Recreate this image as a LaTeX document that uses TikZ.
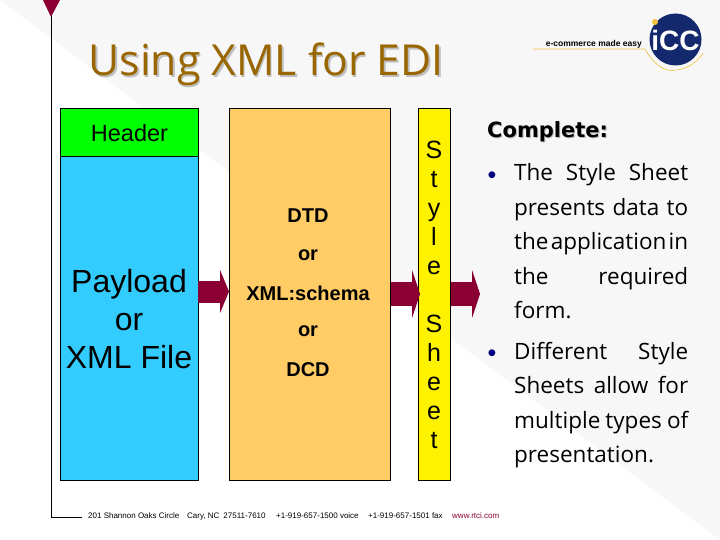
\documentclass[tikz,border=0pt]{standalone}
\usepackage{fontspec}
\setmainfont{Liberation Sans}
\newfontfamily\tahomafont{Open Sans}
\newfontfamily\verdanafont{DejaVu Sans}
\usetikzlibrary{arrows.meta}
\definecolor{wine}{HTML}{8A0033}
\definecolor{titlebrown}{HTML}{996600}
\definecolor{iccblue}{HTML}{14286E}
\definecolor{iccgold}{HTML}{F2C23C}
\definecolor{payloadblue}{HTML}{33CCFF}
\definecolor{schemaorange}{HTML}{FFCC66}
\definecolor{bulletblue}{HTML}{000080}
\newcommand{\jline}[1]{\makebox[174pt][s]{\spaceskip=.08em plus 1em\relax #1}}
\tikzset{
  block/.style={draw=black,thick,minimum width=#1,anchor=north west,inner sep=0pt},
  flowarrow/.style={line width=24pt,wine,-{Triangle[length=8pt,width=48pt]}},
  bodytext/.style={font=\tahomafont\fontsize{22.5}{34.5}\selectfont,anchor=north west,inner sep=0pt,align=left},
  bulletmark/.style={font=\fontsize{25}{30}\selectfont,text=bulletblue,inner sep=0pt},
  boxlabel/.style={font=\fontsize{20}{24}\selectfont\bfseries,inner sep=0pt},
  footlabel/.style={font=\fontsize{8}{10}\selectfont,inner sep=0pt,anchor=base west},
  titletext/.style={font=\tahomafont\fontsize{42.7}{50}\selectfont,anchor=west,inner sep=0pt},
  completetext/.style={font=\verdanafont\fontsize{21}{25}\selectfont\bfseries,anchor=west,inner sep=0pt},
}
\begin{document}
\begin{tikzpicture}[x=1pt,y=-1pt]
  \useasboundingbox (0,0) rectangle (720,540);
  \fill[white] (0,0) rectangle (720,540);
  \fill[black!3] (0,0) -- (720,0) -- (720,540) --cycle;
  % frame line
  \coordinate (frametop) at (51,0);
  \coordinate (framebot) at (51,517);
  \coordinate (frameend) at (82,517);
  \draw[thick] (frametop) -- (framebot) -- (frameend);
  \fill[wine] (43,0) -- (60,0) -- (51,17) --cycle;
  % title
  \node[titletext,text=black!25] (titleshadow) at (90,66) {Using XML for EDI};
  \node[titletext,text=titlebrown] (title) at (88.5,64.5) {Using XML for EDI};
  % logo
  \node[font=\bfseries\fontsize{8.5}{10}\selectfont,inner sep=0pt,anchor=east] (slogan) at (642,44) {e-commerce made easy};
  \coordinate (logostart) at (533,49);
  \coordinate (logoend) at (703,53);
  \draw[iccgold,semithick] (logostart) -- (645,49) .. controls (652,62) and (662,70.5) .. (672,70.5) .. controls (686,70) and (697,63) .. (logoend);
  \fill[iccblue] (675.5,39.5) circle (26pt);
  \fill[iccgold] (655,22) circle (3pt);
  \node[text=white,font=\bfseries\fontsize{28}{28}\selectfont,inner sep=0pt] (logo) at (675.5,40.5) {iCC};
  % boxes
  \node[block=138pt,minimum height=48pt,fill=green] (header) at (60,108) {};
  \node[block=138pt,minimum height=324pt,fill=payloadblue] (payload) at (60,156) {};
  \node[block=161pt,minimum height=372pt,fill=schemaorange] (schema) at (229,108) {};
  \node[block=32pt,minimum height=372pt,fill=yellow] (sheet) at (418,108) {};
  \node[font=\fontsize{23.5}{28}\selectfont,inner sep=0pt] (headerlabel) at (129.5,133) {Header};
  \node[font=\fontsize{32}{38}\selectfont,align=center,inner sep=0pt] (payloadlabel) at (129,319) {Payload\\or\\XML File};
  \node[boxlabel] (dtd) at (308,216) {DTD};
  \node[boxlabel] (orone) at (308,255) {or};
  \node[boxlabel] (xmlschema) at (308,293) {XML:schema};
  \node[boxlabel] (ortwo) at (308,331) {or};
  \node[boxlabel] (dcd) at (308,370) {DCD};
  \node[font=\fontsize{25}{29}\selectfont,align=center,inner sep=0pt] (sheetlabel) at (434,295) {S\\t\\y\\l\\e\\[29pt]S\\h\\e\\e\\t};
  % arrows
  \coordinate (rightend) at (480,294);
  \coordinate (midend) at (420,294);
  \coordinate (leftstart) at (198,291.5);
  \coordinate (leftend) at (229,291.5);
  \draw[flowarrow,line width=22pt,-{Triangle[length=9pt,width=43pt]}] (leftstart) -- (leftend);
  \draw[flowarrow] (schema.east |- rightend) -- (midend);
  \draw[flowarrow] (sheet.east |- rightend) -- (rightend);
  % text
  \node[completetext,text=black!30] (completeshadow) at (488,132.5) {Complete:};
  \node[completetext] (complete) at (487,131.5) {Complete:};
  \node[bulletmark] (bulletone) at (492,178) {•};
  \node[bodytext] (styletext) at (514,163.5) {\jline{The Style Sheet}\\\jline{presents data to}\\\jline{the application in}\\\jline{the required}\\form.};
  \node[bulletmark] (bullettwo) at (492,356) {•};
  \node[bodytext] (sheetstext) at (514,342) {\jline{Different Style}\\\jline{Sheets allow for}\\\jline{multiple types of}\\presentation.};
  % footer
  \node[footlabel] (street) at (88,518) {201 Shannon Oaks Circle};
  \node[footlabel] (city) at (187,518) {Cary, NC\enspace 27511-7610};
  \node[footlabel] (voice) at (276,518) {+1-919-657-1500 voice};
  \node[footlabel] (fax) at (368,518) {+1-919-657-1501 fax};
  \node[footlabel,text=wine] (web) at (452,518) {www.rtci.com};
\end{tikzpicture}
\end{document}
